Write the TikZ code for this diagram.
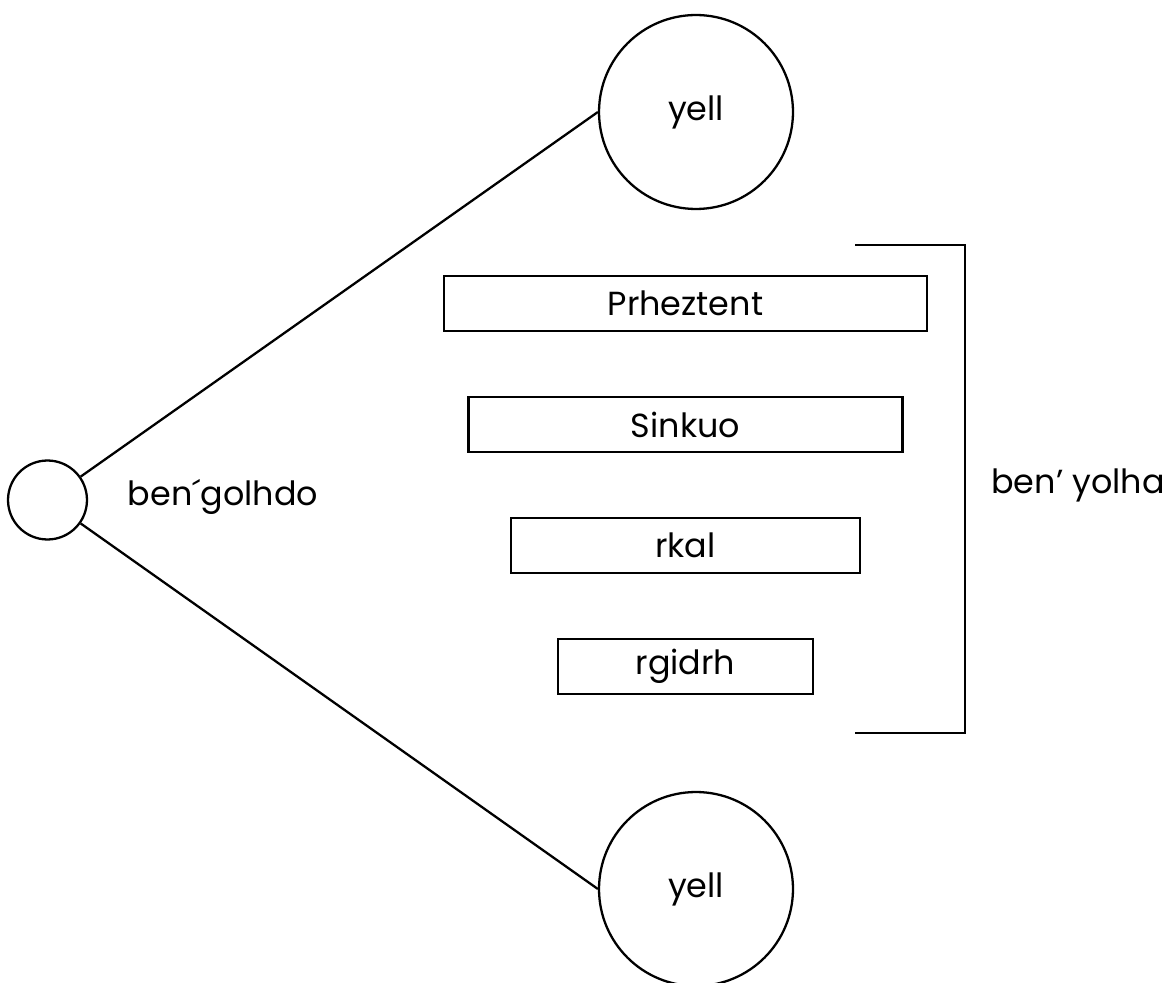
\documentclass[tikz,border=0pt]{standalone}
\usepackage{fontspec}
\setmainfont{Poppins}
\usetikzlibrary{positioning}

\begin{document}
\begin{tikzpicture}[x=0.02cm, y=-0.02cm, line width=1.3pt,
  every node/.style={font=\fontsize{19}{23}\selectfont},
  bigball/.style={draw, circle, inner sep=0pt, minimum size=3.88cm},
  smallball/.style={draw, circle, inner sep=0pt, minimum size=1.58cm},
  namebox/.style={draw, rectangle, inner sep=0pt, minimum height=1.1cm}]
\useasboundingbox (0,0) rectangle (1174,983);

% left point and the two outcomes
\node[smallball] (root) at (47.5,500) {};
\node[bigball] (upper) at (696,112) {yell};
\node[bigball] (lower) at (696,889) {yell};
\draw (root) -- (upper.west);
\draw (root) -- (lower.west);
\node (rootlabel) at (223,497) {ben´golhdo};

% stacked boxes
\foreach \txt/\w [count=\i] in {Prheztent/483, Sinkuo/434, rkal/349, rgidrh/255}{
  \node[namebox, minimum width=\w*0.02cm] (box\i) at (685.5,{303.5+121*(\i-1)}) {\txt};
}

% bracket on the right
\coordinate (brackettop) at (855,245);
\coordinate (bracketbot) at (855,733);
\draw (brackettop) -- ++(110,0) |- (bracketbot);
\node (bracketlabel) at (1078,485) {ben’ yolha};

\end{tikzpicture}
\end{document}
